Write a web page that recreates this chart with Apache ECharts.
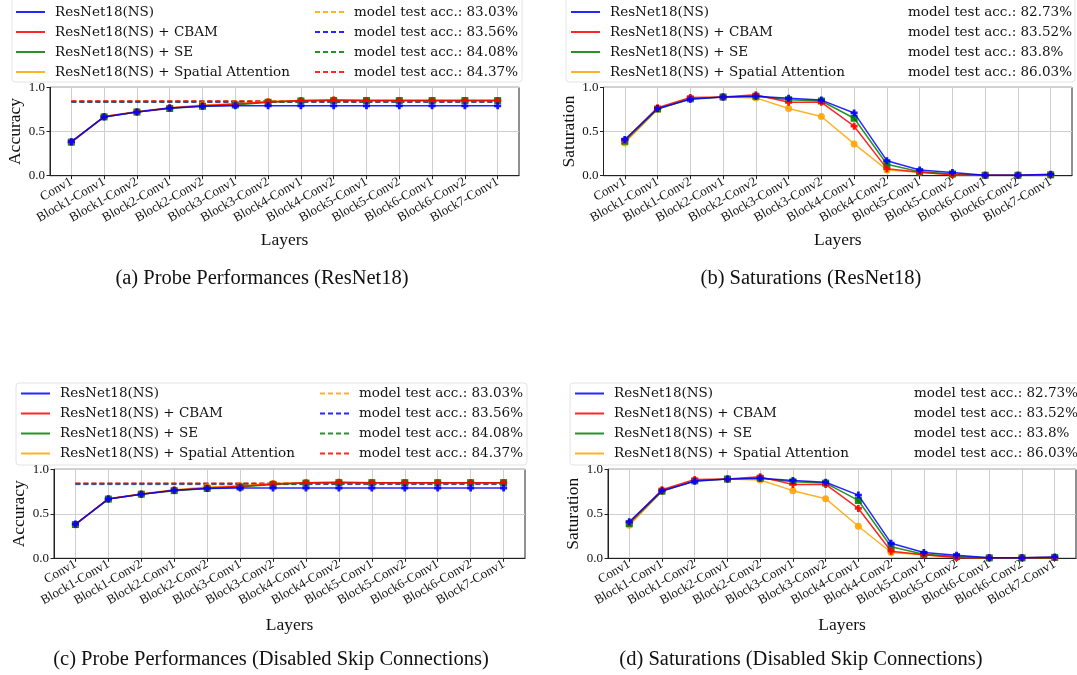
<!DOCTYPE html>
<html><head><meta charset="utf-8">
<script src="https://cdn.jsdelivr.net/npm/echarts@6/dist/echarts.min.js"></script>
<style>html,body{margin:0;padding:0;background:#fff}#c{width:1077px;height:675px}</style>
</head><body><div id="c"></div>
<script>
// ---------- data ----------
const categories = ['Conv1','Block1-Conv1','Block1-Conv2','Block2-Conv1','Block2-Conv2','Block3-Conv1','Block3-Conv2','Block4-Conv1','Block4-Conv2','Block5-Conv1','Block5-Conv2','Block6-Conv1','Block6-Conv2','Block7-Conv1'];
const modelNames = ['ResNet18(NS)','ResNet18(NS) + CBAM','ResNet18(NS) + SE','ResNet18(NS) + Spatial Attention'];

// probe accuracy per layer
const accBase    = [0.385,0.665,0.72,0.765,0.785,0.79,0.79,0.79,0.79,0.79,0.79,0.79,0.79,0.79];
const accCBAM    = [0.38,0.67,0.72,0.765,0.79,0.81,0.835,0.85,0.855,0.85,0.85,0.85,0.85,0.85];
const accSE      = [0.38,0.665,0.72,0.76,0.785,0.80,0.83,0.845,0.85,0.85,0.85,0.85,0.85,0.85];
const accSpatial = [0.375,0.67,0.725,0.77,0.80,0.815,0.84,0.85,0.855,0.85,0.85,0.85,0.85,0.85];

// saturation per layer
const satBase    = [0.41,0.76,0.865,0.89,0.90,0.875,0.855,0.71,0.17,0.065,0.035,0.005,0.005,0.015];
const satCBAM    = [0.40,0.77,0.885,0.89,0.915,0.83,0.83,0.56,0.08,0.04,0.01,0.005,0.005,0.01];
const satSE      = [0.39,0.755,0.87,0.89,0.90,0.86,0.845,0.65,0.13,0.045,0.02,0.005,0.005,0.01];
const satSpatial = [0.37,0.75,0.87,0.89,0.88,0.76,0.67,0.36,0.065,0.04,0.01,0.005,0.005,0.01];

// model test accuracies (%) shown in legends
const testAccProbe = [83.03, 83.56, 84.08, 84.37];
const testAccSat   = [82.73, 83.52, 83.8, 86.03];

const yTickStep = 0.5;
const captions = ['(a) Probe Performances (ResNet18)','(b) Saturations (ResNet18)','(c) Probe Performances (Disabled Skip Connections)','(d) Saturations (Disabled Skip Connections)'];
const yNames = ['Accuracy','Saturation','Accuracy','Saturation'];
const xName = 'Layers';

// ---------- styles / layout ----------
const serif = "'Liberation Serif','Times New Roman',serif";
const dejavu = "'DejaVu Serif',serif";
const solidColors = ['#0000ff','#ff0000','#008000','#ffa500'];
const dashColors = ['#ffa500','#0000ff','#008000','#ff0000'];
const plusPath = 'path://M3,0h4v3h3v4h-3v3h-4v-3h-3v-4h3z';
const symbols = [plusPath, plusPath, 'rect', 'circle'];

const panels = [
  {grid:{left:50, top:87.3, width:469, height:88.4}, leg1:[15,5], leg2:[314,5], box:[12,-3,510,85], cap:[262,280], kind:'acc', xGap:56},
  {grid:{left:603.5, top:87.3, width:468.5, height:88.4}, leg1:[570,5], leg2:[868,5], box:[566,-3,509,85], cap:[811,280], kind:'sat', xGap:56},
  {grid:{left:54, top:469.3, width:471, height:89}, leg1:[20,386.5], leg2:[319,386.5], box:[16,383,511,82], cap:[271,661], kind:'acc', xGap:58},
  {grid:{left:608, top:469.3, width:468, height:89}, leg1:[574,386.5], leg2:[874,386.5], box:[570,383,510,82], cap:[801,661], kind:'sat', xGap:58}
];

const idx = categories.map((_, i) => i);
const toPts = arr => arr.map((v, i) => [i, v]);

const option = {
  animation: false,
  backgroundColor: '#fff',
  grid: [], xAxis: [], yAxis: [], series: [], legend: [], title: [], graphic: []
};

panels.forEach((p, gi) => {
  option.grid.push(Object.assign({show:true, borderColor:'#222', borderWidth:1, backgroundColor:'transparent', containLabel:false, outerBoundsMode:'none'}, p.grid));
  option.xAxis.push({
    type:'value', gridIndex:gi, min:-0.65, max:categories.length - 1 + 0.65,
    name:xName, nameLocation:'middle', nameGap:p.xGap,
    nameTextStyle:{fontFamily:serif, fontSize:17.5, color:'#111'},
    axisLine:{show:true, onZero:false, lineStyle:{color:'#222'}},
    axisTick:{show:true, length:3.5, customValues:idx, lineStyle:{color:'#222'}},
    axisLabel:{customValues:idx, formatter:v => categories[Math.round(v)], rotate:30, margin:5, fontFamily:serif, fontSize:13, color:'#111'},
    splitLine:{show:true, lineStyle:{color:'#cfcfcf', width:1}}
  });
  option.yAxis.push({
    type:'value', gridIndex:gi, min:0, max:1, interval:yTickStep,
    name:yNames[gi], nameLocation:'middle', nameGap:24, nameRotate:90,
    nameTextStyle:{fontFamily:serif, fontSize:17.5, color:'#111'},
    axisLine:{show:true, onZero:false, lineStyle:{color:'#222'}},
    axisTick:{show:true, length:3.5, lineStyle:{color:'#222'}},
    axisLabel:{formatter:v => v.toFixed(1), margin:5, fontFamily:serif, fontSize:13, color:'#111'},
    splitLine:{show:true, lineStyle:{color:'#cfcfcf', width:1}}
  });

  const testAcc = p.kind === 'acc' ? testAccProbe : testAccSat;
  const dashNames = testAcc.map(a => 'model test acc.: ' + a + '%');
  // dashed reference lines (drawn first, below)
  dashNames.forEach((nm, k) => {
    option.series.push({
      type:'line', name:nm, xAxisIndex:gi, yAxisIndex:gi,
      data: p.kind === 'acc' ? idx.map(i => [i, testAcc[k] / 100]) : [],
      showSymbol:false, symbol:'none', silent:true,
      lineStyle:{color:dashColors[k], width:1.6, type:[5,3], opacity: p.kind === 'acc' ? 0.85 : 0},
      itemStyle:{color:dashColors[k]}, z:2
    });
  });
  const vals = p.kind === 'acc' ? [accBase, accCBAM, accSE, accSpatial] : [satBase, satCBAM, satSE, satSpatial];
  const drawOrder = [3, 2, 1, 0];
  drawOrder.forEach(k => {
    option.series.push({
      type:'line', name:modelNames[k], xAxisIndex:gi, yAxisIndex:gi,
      data: toPts(vals[k]), symbol:symbols[k], symbolSize:7, showSymbol:true,
      lineStyle:{color:solidColors[k], width:1.5, opacity:0.85},
      itemStyle:{color:solidColors[k], opacity:0.9}, z:3 + (3 - k)
    });
  });

  const legText = {fontFamily:dejavu, fontSize:13.5, color:'#111', lineHeight:14, padding:[0,0,0,5]};
  option.legend.push({
    orient:'vertical', left:p.leg1[0], top:p.leg1[1], padding:0, itemGap:6, itemWidth:29, itemHeight:14,
    data:modelNames, textStyle:legText, itemStyle:{opacity:0}, selectedMode:false, z:10
  });
  option.legend.push({
    orient:'vertical', left:p.leg2[0], top:p.leg2[1], padding:0, itemGap:6, itemWidth:29, itemHeight:14,
    data:dashNames, textStyle:legText, itemStyle:{opacity:0},
    lineStyle: p.kind === 'acc' ? {} : {opacity:0}, selectedMode:false, z:10
  });
  option.graphic.push({
    type:'rect', shape:{x:p.box[0], y:p.box[1], width:p.box[2], height:p.box[3], r:3},
    style:{fill:'rgba(255,255,255,0.8)', stroke:'#e4e4e4', lineWidth:1}, z:-1, silent:true
  });
  option.title.push({
    text:captions[gi], left:p.cap[0], top:p.cap[1] - 12, textAlign:'center', padding:0,
    textStyle:{fontFamily:serif, fontSize:20.5, fontWeight:'normal', color:'#111'}
  });
});

const chart = echarts.init(document.getElementById('c'), null, {renderer:'canvas'});
chart.setOption(option);
</script></body></html>
